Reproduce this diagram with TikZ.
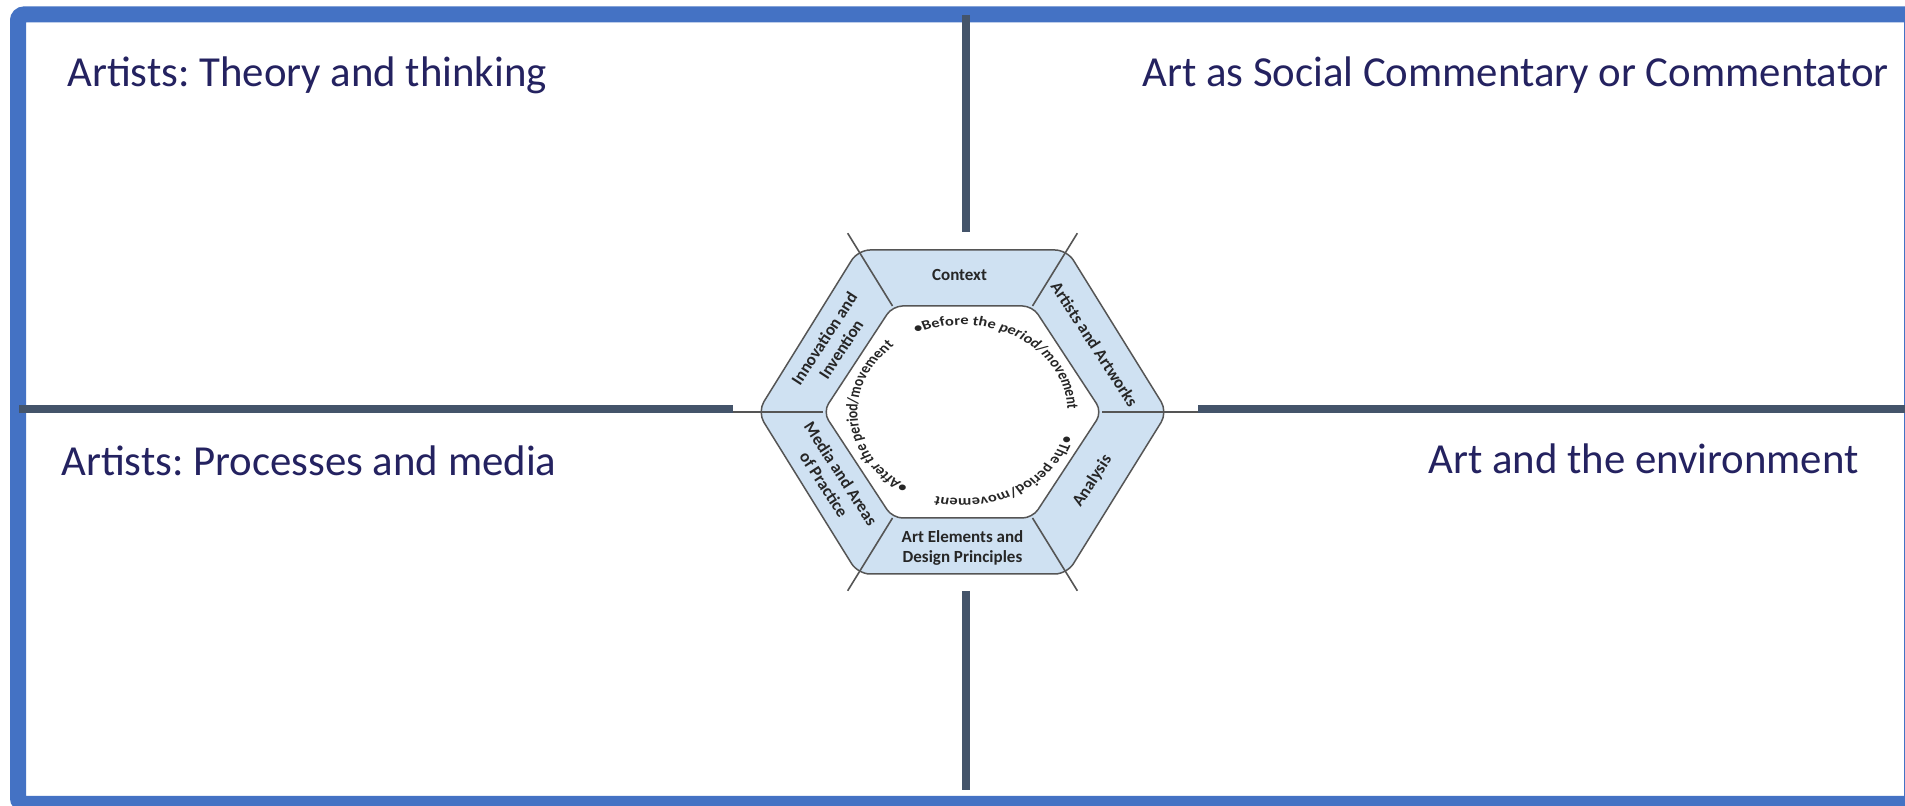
\documentclass[tikz,border=0pt]{standalone}
\usepackage{fontspec}
\setmainfont{Carlito}
\usepackage{tikz}
\usetikzlibrary{calc}
\usetikzlibrary{positioning}
\usetikzlibrary{decorations.text}
\definecolor{frameblue}{RGB}{68,114,196}
\definecolor{slate}{RGB}{68,84,106}
\definecolor{titlenavy}{RGB}{36,34,96}
\definecolor{hexblue}{RGB}{207,225,242}
\definecolor{hexline}{RGB}{85,85,85}
\tikzset{
  title/.style={anchor=base west, inner sep=0pt, text=titlenavy, font=\frenchspacing\fontsize{21.4}{25}\selectfont},
  divider/.style={slate, line width=4pt},
  seglabel/.style={inner sep=0pt, align=center, text=black!85, font=\bfseries\fontsize{8.5}{10}\selectfont},
  ringtext/.style={decorate, decoration={text along path, text color=black!85, text={|\bfseries\fontsize{8.2}{9}\selectfont|#1}}}
}

\begin{document}
\begin{tikzpicture}[x=0.5pt, y=0.5pt]
\useasboundingbox (0,0) rectangle (1905,806);
\fill[white] (0,0) rectangle (1905,806);
\begin{scope}
\clip (0,0) rectangle (1905,806);
\draw[frameblue, line width=8pt, rounded corners=3pt] (18,791.5) rectangle (1912,2);
\end{scope}

\draw[divider] (19,397) -- (733,397);
\draw[divider] (1198,397) -- (1905,397);
\draw[divider] (966,791) -- (966,574);
\draw[divider] (966,215) -- (966,16);

\node[title] (theory) at (67,719) {Artists: Theory and thinking};
\node[title] (social) at (1142,719) {Art as Social Commentary or Commentator};
\node[title] (processes) at (61,330) {Artists: Processes and media};
\node[title] (environment) at (1428,332) {Art and the environment};

\begin{scope}[shift={(962.5,394)}]
\fill[hexblue, rounded corners=6pt] (0,162) -- (104.5,162) -- (205,0) -- (104.5,-162) -- (-104.5,-162) -- (-205,0) -- (-104.5,162) -- cycle;
\fill[white, rounded corners=5pt] (0,106) -- (70,106) -- (139.5,0) -- (70,-106) -- (-70,-106) -- (-139.5,0) -- (-70,106) -- cycle;
\foreach \ix/\iy/\ex/\ey in {70/106/114.85/178.8, -70/106/-114.85/178.8, 70/-106/114.85/-178.8, -70/-106/-114.85/-178.8, 139.5/0/235.5/0, -139.5/0/-229.5/0}
  \draw[hexline, line width=0.8pt] (\ix,\iy) -- (\ex,\ey);
\draw[hexline, line width=0.75pt, rounded corners=6pt] (0,162) -- (104.5,162) -- (205,0) -- (104.5,-162) -- (-104.5,-162) -- (-205,0) -- (-104.5,162) -- cycle;
\draw[hexline, line width=0.75pt, rounded corners=5pt] (0,106) -- (70,106) -- (139.5,0) -- (70,-106) -- (-70,-106) -- (-139.5,0) -- (-70,106) -- cycle;

\node[seglabel] (context) at (-3,137) {Context};
\node[seglabel] (elements) at (0,-136) {Art Elements and\\Design Principles};
\node[seglabel, rotate=-57] (artworks) at (132,68) {Artists and Artworks};
\node[seglabel, rotate=57] (analysis) at (130,-69) {Analysis};
\node[seglabel, rotate=57] (innovation) at (-130,68) {Innovation and\\Invention};
\node[seglabel, rotate=-57] (media) at (-130,-67) {Media and Areas\\of Practice};
\end{scope}

\begin{scope}[transform canvas={yscale=0.8286}]
\coordinate (ring) at (962.5,475.5);
\path[ringtext={•Before the period/movement}] (ring) ++(116:105) arc[start angle=116, end angle=-30, radius=105];
\path[ringtext={•The period/movement}] (ring) ++(-16:105) arc[start angle=-16, end angle=-140, radius=105];
\path[ringtext={•After the period/movement}] (ring) ++(239:105) arc[start angle=239, end angle=100, radius=105];
\end{scope}
\end{tikzpicture}
\end{document}
